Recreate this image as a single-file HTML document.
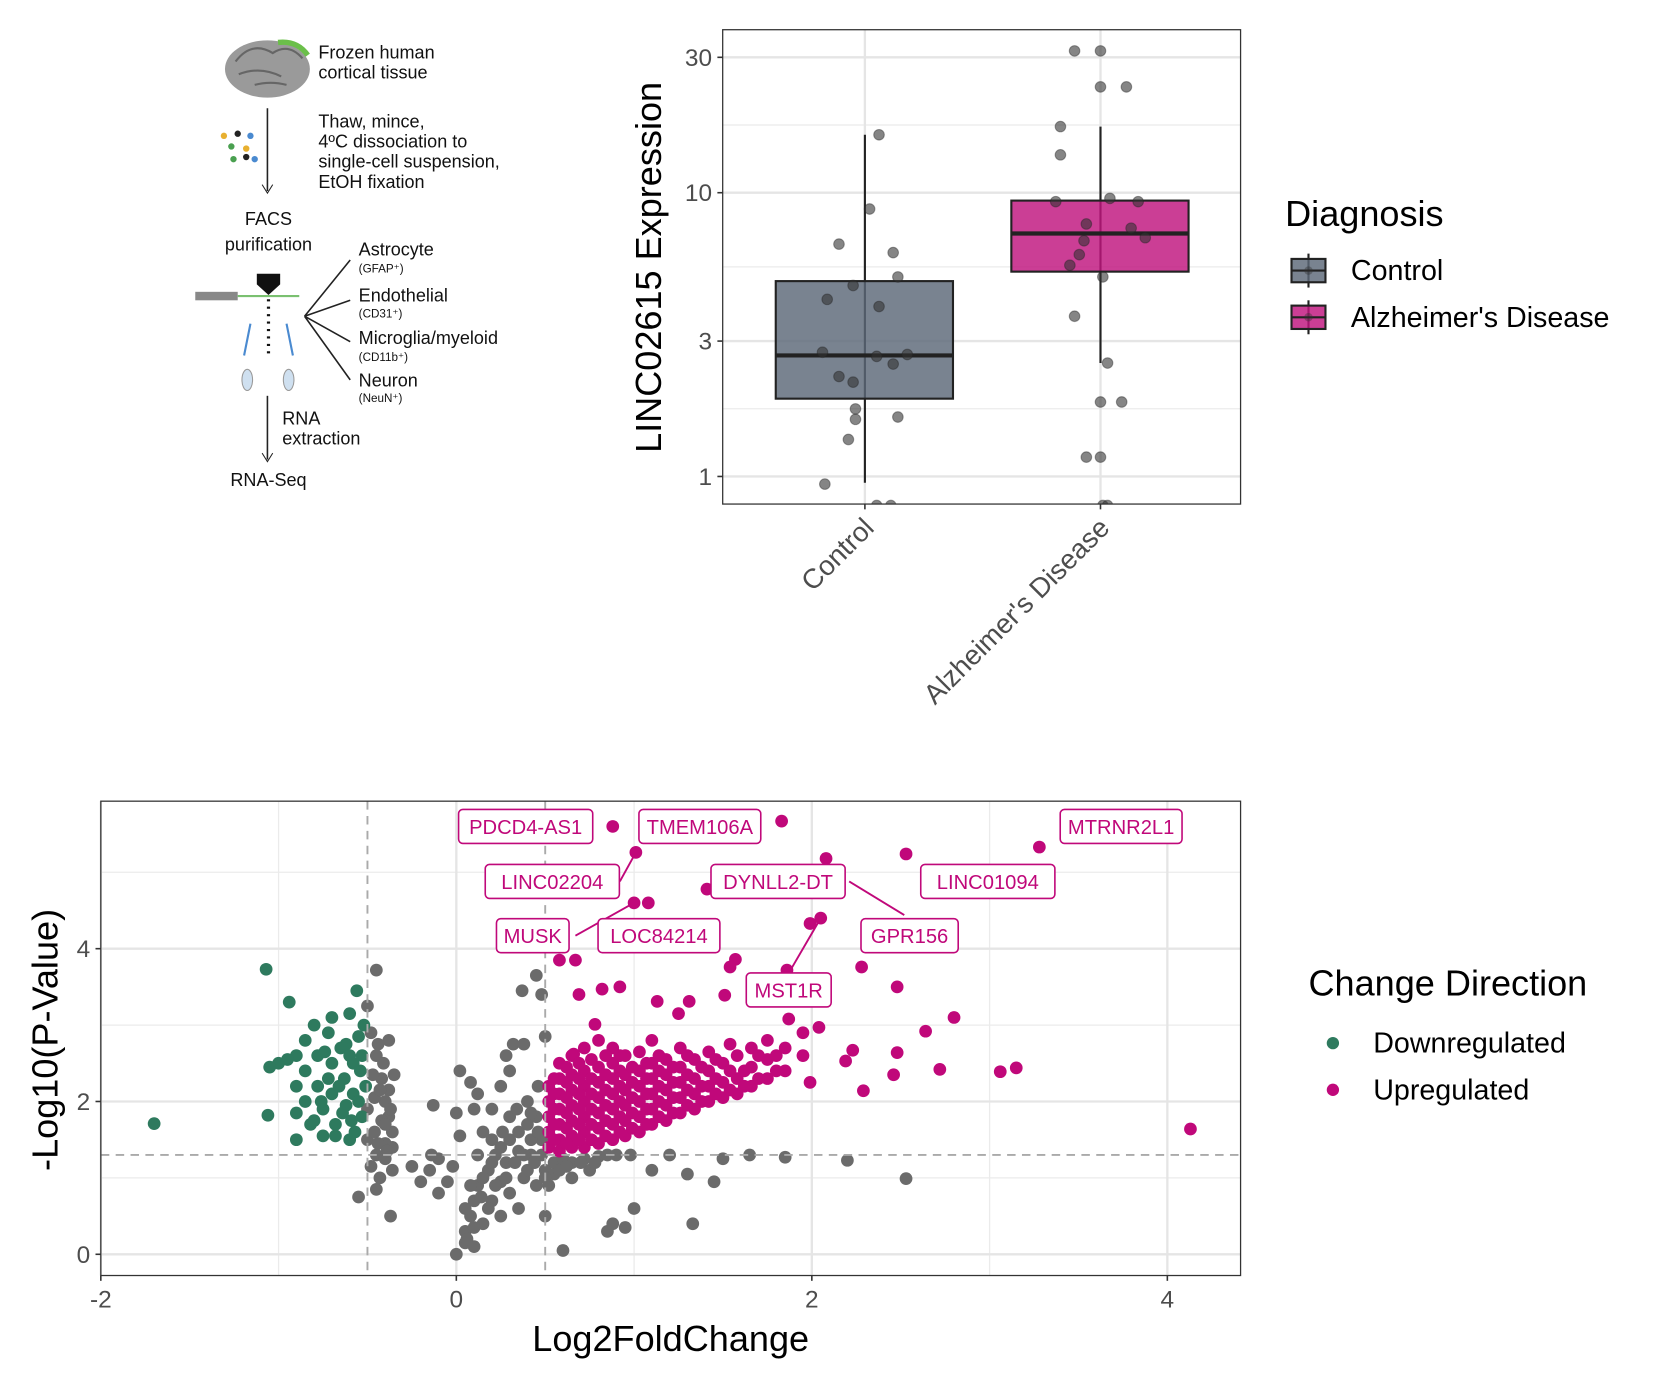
<!DOCTYPE html>
<html><head><meta charset="utf-8"><style>
html,body{margin:0;padding:0;background:#fff;}
svg{display:block;font-family:"Liberation Sans",sans-serif;}
</style></head><body>
<svg id="fig" width="1664" height="1388" viewBox="0 0 1568 1308" preserveAspectRatio="none" xmlns="http://www.w3.org/2000/svg">
<g id="workflow" font-size="17" fill="#111">
  <ellipse cx="252" cy="65" rx="40" ry="27" fill="#9a9a9a"/>
  <path d="M222 58 q15 -20 35 -8 q15 -10 28 5 M225 70 q20 -8 40 2 M240 80 q15 -4 30 0" stroke="#666" fill="none" stroke-width="2"/>
  <path d="M262 40 q18 -2 28 12" stroke="#6bbf4a" stroke-width="5" fill="none"/>
  <text x="300" y="55">Frozen human</text><text x="300" y="74">cortical tissue</text>
  <line x1="252" y1="102" x2="252" y2="180" stroke="#222" stroke-width="1.5"/><path d="M247 174 l5 8 l5 -8" fill="none" stroke="#222"/>
  <g><circle cx="211" cy="128" r="3" fill="#e8b030"/><circle cx="224" cy="126" r="3" fill="#222"/><circle cx="236" cy="128" r="3" fill="#4a8ad0"/><circle cx="218" cy="138" r="3" fill="#4aa050"/><circle cx="232" cy="140" r="3" fill="#e8b030"/><circle cx="220" cy="150" r="3" fill="#4aa050"/><circle cx="232" cy="148" r="3" fill="#222"/><circle cx="240" cy="150" r="3" fill="#4a8ad0"/></g>
  <text x="300" y="120">Thaw, mince,</text><text x="300" y="139">4ºC dissociation to</text><text x="300" y="158">single-cell suspension,</text><text x="300" y="177">EtOH fixation</text>
  <text x="253" y="212" text-anchor="middle">FACS</text><text x="253" y="236" text-anchor="middle">purification</text>
  <rect x="184" y="275" width="40" height="8" fill="#888"/><line x1="224" y1="279" x2="282" y2="279" stroke="#7ac070" stroke-width="2"/>
  <path d="M242 258 h22 v10 l-11 10 l-11 -10 z" fill="#111"/>
  <line x1="253" y1="282" x2="253" y2="335" stroke="#111" stroke-width="3" stroke-dasharray="2 5"/>
  <path d="M236 305 l-6 30 M270 305 l6 30" stroke="#4a8ad0" stroke-width="2"/>
  <ellipse cx="233" cy="358" rx="5" ry="10" fill="#cfe0f0" stroke="#999"/><ellipse cx="272" cy="358" rx="5" ry="10" fill="#cfe0f0" stroke="#999"/>
  <path d="M287 298 L330 245 M287 298 L330 283 M287 298 L330 322 M287 298 L330 358" stroke="#222" stroke-width="1.5" fill="none"/>
  <text x="338" y="241">Astrocyte</text><text x="338" y="257" font-size="11">(GFAP⁺)</text>
  <text x="338" y="284">Endothelial</text><text x="338" y="299" font-size="11">(CD31⁺)</text>
  <text x="338" y="324">Microglia/myeloid</text><text x="338" y="340" font-size="11">(CD11b⁺)</text>
  <text x="338" y="364">Neuron</text><text x="338" y="379" font-size="11">(NeuN⁺)</text>
  <line x1="252" y1="373" x2="252" y2="433" stroke="#222" stroke-width="1.5"/><path d="M247 427 l5 8 l5 -8" fill="none" stroke="#222"/>
  <text x="266" y="400">RNA</text><text x="266" y="419">extraction</text>
  <text x="253" y="458" text-anchor="middle">RNA-Seq</text>
</g>
<g id="box"></g>
<g id="volc"></g>
</svg>
<script>
// ---------- Boxplot data ----------
const boxCategories = ["Control", "Alzheimer's Disease"];
const boxQ1 = [1.88, 5.27];
const boxMedian = [2.67, 7.18];
const boxQ3 = [4.88, 9.38];
const boxWhiskerLow = [0.95, 2.51];
const boxWhiskerHigh = [16.0, 17.1];
const controlValues = [16.0, 8.76, 6.59, 6.15, 5.05, 4.71, 4.21, 3.97, 2.74, 2.65, 2.49, 2.69, 2.25, 2.15, 1.73, 1.59, 1.62, 1.35, 0.94, 0.79, 0.79];
const controlJitter = [0.06, 0.02, -0.11, 0.12, 0.14, -0.05, -0.16, 0.06, -0.18, 0.05, 0.12, 0.18, -0.11, -0.05, -0.04, -0.04, 0.14, -0.07, -0.17, 0.05, 0.11];
const adValues = [31.6, 31.6, 23.6, 23.6, 17.1, 13.6, 9.3, 9.55, 9.3, 7.76, 7.5, 6.94, 6.77, 6.05, 5.55, 5.05, 3.67, 2.51, 1.83, 1.83, 1.17, 1.17, 0.79, 0.79];
const adJitter = [-0.11, 0, 0, 0.11, -0.17, -0.17, -0.19, 0.04, 0.16, -0.06, 0.13, 0.19, -0.07, -0.09, -0.13, 0.01, -0.11, 0.03, 0, 0.09, -0.06, 0, 0.01, 0.03];
const boxTicks = [1, 3, 10, 30];
const boxMinor = [1.732, 5.477, 17.32];

// ---------- Volcano data ----------
const volcXTicks = [-2, 0, 2, 4];
const volcYTicks = [0, 2, 4];
const upX = [1.83,0.88,1.01,2.08,2.53,3.28,1.41,1.0,1.08,2.05,1.99,1.57,1.54,1.86,2.28,0.58,0.67,2.48,2.80,2.64,2.48,2.72,3.06,3.15,2.46,2.29,4.13,0.82,0.92,0.69,1.13,1.31,1.51,1.25,1.54,2.04,2.23,2.19,1.99,1.87,0.78,0.66,
0.52,0.52,0.52,0.52,0.52,0.58,0.58,0.58,0.58,0.58,0.58,0.58,0.65,0.65,0.65,0.65,0.65,0.65,0.65,0.72,0.72,0.72,0.72,0.72,0.72,0.72,0.8,0.8,0.8,0.8,0.8,0.8,0.8,0.88,0.88,0.88,0.88,0.88,0.88,0.88,0.95,0.95,0.95,0.95,0.95,0.95,1.03,1.03,1.03,1.03,1.03,1.03,1.1,1.1,1.1,1.1,1.1,1.1,1.18,1.18,1.18,1.18,1.18,1.26,1.26,1.26,1.26,1.26,1.34,1.34,1.34,1.34,1.42,1.42,1.42,1.42,1.5,1.5,1.5,1.58,1.58,1.58,1.66,1.66,1.66,1.75,1.75,1.75,1.85,1.85,1.95,1.95,
0.55,0.55,0.55,0.55,0.55,0.62,0.62,0.62,0.62,0.62,0.62,0.69,0.69,0.69,0.69,0.69,0.69,0.76,0.76,0.76,0.76,0.76,0.76,0.84,0.84,0.84,0.84,0.84,0.84,0.92,0.92,0.92,0.92,0.92,0.92,0.99,0.99,0.99,0.99,0.99,1.07,1.07,1.07,1.07,1.07,1.14,1.14,1.14,1.14,1.14,1.22,1.22,1.22,1.22,1.3,1.3,1.3,1.3,1.38,1.38,1.38,1.46,1.46,1.46,1.54,1.54,1.62,1.62,1.7,1.7,1.8,1.8];
const upY = [5.67,5.60,5.26,5.18,5.24,5.33,4.78,4.6,4.6,4.40,4.33,3.86,3.76,3.72,3.76,3.85,3.85,3.5,3.10,2.92,2.64,2.42,2.39,2.44,2.35,2.14,1.64,3.47,3.5,3.4,3.31,3.31,3.39,3.15,2.75,2.97,2.67,2.53,2.25,3.08,3.01,2.62,
1.4,1.6,1.8,2.0,2.2,1.35,1.5,1.7,1.9,2.1,2.3,2.5,1.4,1.55,1.75,1.95,2.15,2.35,2.6,1.4,1.6,1.8,2.0,2.2,2.4,2.7,1.45,1.65,1.85,2.05,2.25,2.45,2.8,1.5,1.7,1.9,2.1,2.3,2.5,2.7,1.55,1.75,1.95,2.15,2.35,2.6,1.6,1.8,2.0,2.2,2.4,2.65,1.7,1.9,2.1,2.3,2.5,2.8,1.75,1.95,2.15,2.35,2.55,1.85,2.05,2.25,2.45,2.7,1.9,2.1,2.3,2.55,2.0,2.2,2.4,2.65,2.05,2.25,2.5,2.1,2.3,2.6,2.2,2.45,2.7,2.3,2.55,2.8,2.4,2.7,2.6,2.9,
1.5,1.7,1.9,2.1,2.3,1.45,1.65,1.85,2.05,2.25,2.45,1.5,1.7,1.9,2.1,2.3,2.5,1.5,1.7,1.9,2.1,2.3,2.55,1.55,1.75,1.95,2.15,2.35,2.6,1.6,1.8,2.0,2.2,2.4,2.6,1.65,1.85,2.05,2.25,2.45,1.7,1.9,2.1,2.3,2.5,1.8,2.0,2.2,2.4,2.6,1.85,2.05,2.25,2.45,1.95,2.15,2.35,2.6,2.0,2.2,2.45,2.1,2.3,2.55,2.15,2.4,2.2,2.4,2.3,2.6,2.4,2.6];
const downX = [-1.07,-1.7,-1.06,-1.0,-0.94,-0.9,-0.9,-0.9,-0.9,-0.85,-0.85,-0.85,-0.82,-0.8,-0.78,-0.78,-0.75,-0.72,-0.7,-0.7,-0.7,-0.68,-0.65,-0.63,-0.62,-0.6,-0.6,-0.58,-0.57,-0.56,-0.55,-0.54,-0.53,-0.52,-0.51,-0.6,-0.75,-0.95,-1.05,
-0.58,-0.62,-0.66,-0.72,-0.76,-0.55,-0.59,-0.64,-0.68,-0.8,-0.74,-0.53];
const downY = [3.73,1.71,1.82,2.5,3.3,2.6,2.2,1.85,1.5,2.8,2.4,2.0,1.7,3.0,2.6,2.2,1.9,2.9,3.1,2.5,2.1,1.7,2.7,2.3,1.95,3.15,2.6,2.1,1.6,3.45,2.85,2.4,1.8,3.0,2.2,1.5,1.55,2.55,2.45,
2.5,2.75,2.2,2.3,2.0,2.0,1.75,1.85,1.55,1.75,2.65,2.6];
const nsX = [-0.45,-0.5,-0.48,-0.45,-0.42,-0.4,-0.38,-0.36,-0.4,-0.45,-0.48,-0.43,-0.35,-0.38,-0.42,-0.46,-0.5,-0.5,-0.46,-0.4,-0.36,-0.55,-0.37,-0.45,-0.25,-0.2,-0.15,-0.1,-0.14,-0.05,-0.02,-0.1,0.02,-0.13,0.0,0.02,
0,0.05,0.05,0.1,0.08,0.1,0.15,0.12,0.18,0.2,0.22,0.25,0.28,0.3,0.3,0.35,0.38,0.4,0.42,0.45,0.48,0.5,0.55,0.6,0.65,0.72,0.8,0.85,0.55,0.65,0.75,0.45,0.35,0.25,0.2,0.15,0.1,0.12,0.08,0.25,0.28,0.32,0.38,0.46,0.48,0.45,0.37,0.5,0.3,0.2,0.4,0.5,0.6,0.85,0.88,0.95,1.0,1.33,1.3,1.45,1.5,1.65,1.85,2.2,2.53,1.1,1.2,
0.05,0.08,0.12,0.15,0.18,0.22,0.25,0.28,0.3,0.33,0.35,0.38,0.4,0.42,0.44,0.46,0.48,0.5,0.52,0.58,0.62,0.7,0.78,0.9,0.98,0.06,0.1,0.14,0.2,0.26,0.34,0.42,
-0.44,-0.41,-0.38,-0.37,-0.4,-0.44,-0.36,-0.39,-0.47,-0.43];
const nsY = [3.72,3.25,2.9,2.6,2.3,2.0,1.8,1.6,1.45,1.3,1.15,1.0,2.35,2.8,1.75,2.05,1.9,1.5,1.6,1.25,1.1,0.75,0.5,0.85,1.15,0.95,1.1,1.25,1.3,0.95,1.15,0.8,2.4,1.95,1.85,1.55,
0,0.3,0.15,0.1,0.5,0.7,0.4,0.9,1.1,0.7,1.3,0.95,1.2,1.5,0.8,1.35,1.0,1.7,1.3,1.8,1.5,1.1,1.2,1.25,1.2,1.25,1.28,1.3,1.05,1.0,1.1,0.9,0.6,0.5,1.5,1.6,1.9,2.1,2.25,2.2,2.6,2.75,2.75,2.2,3.4,3.65,3.45,2.85,2.4,1.9,2.0,0.5,0.05,0.3,0.4,0.35,0.6,0.4,1.05,0.95,1.25,1.3,1.27,1.23,0.99,1.1,1.3,
0.6,0.9,1.3,1.0,0.6,0.9,1.4,1.0,1.8,1.2,1.6,1.3,1.1,1.5,1.2,1.6,1.3,1.0,0.9,1.1,1.15,1.2,1.2,1.3,1.3,0.2,0.35,0.75,1.2,1.6,1.9,1.85,
2.75,2.5,2.15,1.9,1.7,1.45,1.4,1.35,2.35,2.15];
const geneLabels = ["PDCD4-AS1","TMEM106A","MTRNR2L1","LINC02204","DYNLL2-DT","LINC01094","MUSK","LOC84214","GPR156","MST1R"];
const geneLabelX = [0.39,1.37,3.74,0.54,1.81,2.99,0.43,1.14,2.55,1.87];
const geneLabelY = [5.60,5.60,5.60,4.88,4.88,4.88,4.17,4.17,4.17,3.46];

const NS="http://www.w3.org/2000/svg";
function mk(tag, attrs, parent){const e=document.createElementNS(NS,tag);for(const k in attrs)e.setAttribute(k,attrs[k]);parent.appendChild(e);return e;}

// ---------- Boxplot ----------
(function(){
const g=document.getElementById('box');
const L=681,R=1169,T=28,B=475;
const yS=v=>449-267.4*Math.log10(v);
const xS=i=>815+i*222;
mk('rect',{x:L,y:T,width:R-L,height:B-T,fill:'#fff'},g);
boxMinor.forEach(v=>mk('line',{x1:L,x2:R,y1:yS(v),y2:yS(v),stroke:'#ebebeb','stroke-width':1.2},g));
boxTicks.forEach(v=>mk('line',{x1:L,x2:R,y1:yS(v),y2:yS(v),stroke:'#e5e5e5','stroke-width':2.2},g));
boxCategories.forEach((c,i)=>mk('line',{x1:xS(i),x2:xS(i),y1:T,y2:B,stroke:'#e5e5e5','stroke-width':2.2},g));
const fills=['#5b6878','#c0147e'];
boxCategories.forEach((c,i)=>{
  const x=xS(i);
  const w=mk('line',{x1:x,x2:x,y1:yS(boxWhiskerHigh[i]),y2:yS(boxWhiskerLow[i]),stroke:'#222','stroke-width':2},g);
  
  
  const r=mk('rect',{x:x-84,y:yS(boxQ3[i]),width:167,height:yS(boxQ1[i])-yS(boxQ3[i]),fill:fills[i],'fill-opacity':0.82,stroke:'#222','stroke-width':2},g);
  
  
  mk('line',{x1:x-84,x2:x+83,y1:yS(boxMedian[i]),y2:yS(boxMedian[i]),stroke:'#222','stroke-width':4},g);
});
const clip=mk('clipPath',{id:'bclip'},g);mk('rect',{x:L,y:T,width:R-L,height:B-T},clip);
const pg=mk('g',{'clip-path':'url(#bclip)'},g);
[[controlValues,controlJitter,0],[adValues,adJitter,1]].forEach(([vals,jit,i])=>{
  vals.forEach((v,k)=>{
    const c=mk('circle',{cx:xS(i+jit[k]),cy:yS(v),r:5,fill:'#333','fill-opacity':0.6,stroke:'#222','stroke-opacity':0.4},pg);
    
    
  });
});
mk('rect',{x:L,y:T,width:R-L,height:B-T,fill:'none',stroke:'#333','stroke-width':1.2},g);
boxTicks.forEach(v=>{
  mk('line',{x1:L-5,x2:L,y1:yS(v),y2:yS(v),stroke:'#333','stroke-width':1.5},g);
  const t=mk('text',{x:L-10,y:yS(v)+8,'text-anchor':'end','font-size':23,fill:'#4d4d4d'},g);t.textContent=v;
  
  
});
boxCategories.forEach((c,i)=>{
  mk('line',{x1:xS(i),x2:xS(i),y1:B,y2:B+5,stroke:'#333','stroke-width':1.5},g);
  const t=mk('text',{x:xS(i)+10,y:B+24,'text-anchor':'end','font-size':26,fill:'#4d4d4d',transform:`rotate(-45 ${xS(i)+10} ${B+24})`},g);t.textContent=c;
  
  
});
const yt=mk('text',{x:0,y:0,'text-anchor':'middle','font-size':34,fill:'#000',transform:'translate(623 252) rotate(-90)'},g);yt.textContent='LINC02615 Expression';


const lt=mk('text',{x:1211,y:213,'font-size':34},g);lt.textContent='Diagnosis';


boxCategories.forEach((c,i)=>{
  const y=255+i*44;
  const e=mk('g',{},g);
  
  
  mk('line',{x1:1233,x2:1233,y1:y-16,y2:y+16,stroke:'#222','stroke-width':2},e);
  mk('rect',{x:1217,y:y-11,width:32,height:22,fill:fills[i],'fill-opacity':0.82,stroke:'#222','stroke-width':2},e);
  mk('line',{x1:1217,x2:1249,y1:y,y2:y,stroke:'#222','stroke-width':2},e);
  mk('circle',{cx:1233,cy:y,r:4,fill:'#333','fill-opacity':0.4},e);
  const t=mk('text',{x:1273,y:y+9,'font-size':27},e);t.textContent=c;
});
})();

// ---------- Volcano ----------
(function(){
const g=document.getElementById('volc');
const L=95,R=1169,T=755,B=1202;
const xS=v=>430+167.5*v, yS=v=>1182-72*v;
mk('rect',{x:L,y:T,width:R-L,height:B-T,fill:'#fff'},g);
[-1,1,3].forEach(v=>mk('line',{x1:xS(v),x2:xS(v),y1:T,y2:B,stroke:'#ebebeb','stroke-width':1.2},g));
[1,3,5].forEach(v=>mk('line',{x1:L,x2:R,y1:yS(v),y2:yS(v),stroke:'#ebebeb','stroke-width':1.2},g));
volcXTicks.forEach(v=>mk('line',{x1:xS(v),x2:xS(v),y1:T,y2:B,stroke:'#e5e5e5','stroke-width':2.2},g));
volcYTicks.forEach(v=>mk('line',{x1:L,x2:R,y1:yS(v),y2:yS(v),stroke:'#e5e5e5','stroke-width':2.2},g));
const dot=(x,y,col,name)=>{const c=mk('circle',{cx:xS(x),cy:yS(y),r:6,fill:col},g);
  
  };
nsX.forEach((x,i)=>dot(x,nsY[i],'#6b6b6b','gene-point-ns'));
downX.forEach((x,i)=>dot(x,downY[i],'#2e7a5e','gene-point-down'));
upX.forEach((x,i)=>dot(x,upY[i],'#c0087a','gene-point-up'));
[-0.5,0.5].forEach(v=>mk('line',{x1:xS(v),x2:xS(v),y1:T,y2:B,stroke:'#aaa','stroke-width':1.8,'stroke-dasharray':'8 6'},g));
mk('line',{x1:L,x2:R,y1:yS(1.3),y2:yS(1.3),stroke:'#aaa','stroke-width':1.8,'stroke-dasharray':'8 6'},g);
[[0.92,4.88,1.01,5.26],[0.67,4.17,1.0,4.6],[2.21,4.88,2.52,4.44],[1.88,3.72,2.05,4.40]].forEach(a=>mk('line',{x1:xS(a[0]),y1:yS(a[1]),x2:xS(a[2]),y2:yS(a[3]),stroke:'#c0087a','stroke-width':1.8},g));
geneLabels.forEach((s,i)=>{
  const w=s.length*11.6+22;
  const cx=xS(geneLabelX[i]), cy=yS(geneLabelY[i]);
  const lg=mk('g',{},g);
  
  
  mk('rect',{x:cx-w/2,y:cy-16,width:w,height:32,rx:4,fill:'#fff',stroke:'#c0087a','stroke-width':1.5},lg);
  const t=mk('text',{x:cx,y:cy+7,'text-anchor':'middle','font-size':19,fill:'#c0087a'},lg);t.textContent=s;
});
mk('rect',{x:L,y:T,width:R-L,height:B-T,fill:'none',stroke:'#333','stroke-width':1.2},g);
volcXTicks.forEach(v=>{mk('line',{x1:xS(v),x2:xS(v),y1:B,y2:B+5,stroke:'#333','stroke-width':1.5},g);
  const t=mk('text',{x:xS(v),y:B+30,'text-anchor':'middle','font-size':23,fill:'#4d4d4d'},g);t.textContent=v;
  
  });
volcYTicks.forEach(v=>{mk('line',{x1:L-5,x2:L,y1:yS(v),y2:yS(v),stroke:'#333','stroke-width':1.5},g);
  const t=mk('text',{x:L-10,y:yS(v)+8,'text-anchor':'end','font-size':23,fill:'#4d4d4d'},g);t.textContent=v;
  
  });
const xt=mk('text',{x:632,y:1273,'text-anchor':'middle','font-size':34},g);xt.textContent='Log2FoldChange';


const yt=mk('text',{x:0,y:0,'text-anchor':'middle','font-size':34,transform:'translate(54 980) rotate(-90)'},g);yt.textContent='-Log10(P-Value)';


const lt=mk('text',{x:1233,y:938,'font-size':34},g);lt.textContent='Change Direction';


[['Downregulated','#2e7a5e'],['Upregulated','#c0087a']].forEach(([s,c],i)=>{
  const y=983+i*44;const e=mk('g',{},g);
  
  
  mk('circle',{cx:1256,cy:y,r:5.8,fill:c},e);
  const t=mk('text',{x:1294,y:y+9,'font-size':27},e);t.textContent=s;
});
})();
</script>
</body></html>
